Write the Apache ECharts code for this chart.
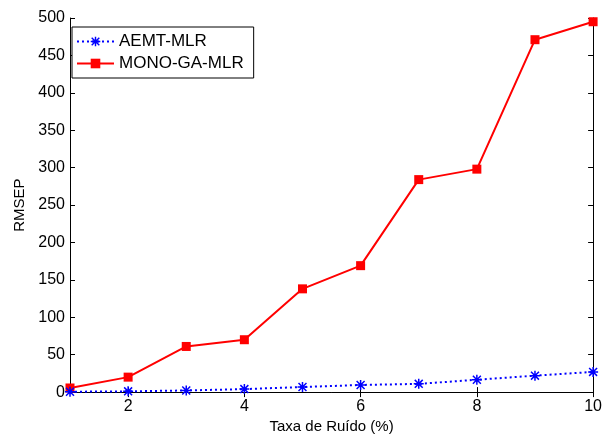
<!DOCTYPE html>
<html><head><meta charset="utf-8">
<script src="https://cdn.jsdelivr.net/npm/echarts@6/dist/echarts.min.js"></script>
<style>html,body{margin:0;padding:0;background:#fff}#c{width:605px;height:439px}</style>
</head><body><div id="c"></div>
<script>
var xValues = [1, 2, 3, 4, 5, 6, 7, 8, 9, 10];
var aemtMlr = [0.5, 1, 2.2, 4, 6.8, 9.5, 11, 16.5, 22, 27];
var monoGaMlr = [5.5, 20, 61, 70, 138, 169, 284, 298, 471, 495];
var xTicks = [2, 4, 6, 8, 10];
var seriesNames = ['AEMT-MLR', 'MONO-GA-MLR'];

var star = 'path://M8.5,0L11.5,0L11.5,20L8.5,20Z M0,8.5L20,8.5L20,11.5L0,11.5Z M1,3.1L3.1,1L19,16.9L16.9,19Z M16.9,1L19,3.1L3.1,19L1,16.9Z';
var font = 'Arial, Liberation Sans, Helvetica, sans-serif';
function pairs(v){ return xValues.map(function(x,i){ return [x, v[i]]; }); }

var chart = echarts.init(document.getElementById('c'), null, {renderer:'canvas'});
var axisCommon = {
  axisLine:{show:true, lineStyle:{color:'#000', width:1}},
  splitLine:{show:false}
};
chart.setOption({
  animation:false,
  backgroundColor:'#fff',
  grid:{left:70, right:9, top:18, bottom:43},
  legend:{
    orient:'vertical', left:72, top:27, data:seriesNames,
    backgroundColor:'#fff', borderColor:'#000', borderWidth:1,
    padding:[6,10,6,4], itemGap:5, itemWidth:37, itemHeight:12,
    textStyle:{fontFamily:font, fontSize:17, color:'#000'}
  },
  xAxis:[
    Object.assign({type:'value', min:1, max:10, position:'bottom',
      name:'Taxa de Ruído (%)', nameLocation:'middle', nameGap:24,
      nameTextStyle:{fontFamily:font, fontSize:15, color:'#000'},
      axisTick:{show:true, inside:true, length:5, customValues:xTicks, lineStyle:{color:'#000'}},
      axisLabel:{customValues:xTicks, fontFamily:font, fontSize:16, color:'#000', margin:6}
    }, axisCommon),
    Object.assign({type:'value', min:1, max:10, position:'top',
      axisTick:{show:true, inside:true, length:5, customValues:xTicks, lineStyle:{color:'#000'}},
      axisLabel:{show:false}
    }, axisCommon)
  ],
  yAxis:[
    Object.assign({type:'value', min:0, max:500, interval:50, position:'left',
      name:'RMSEP', nameLocation:'middle', nameGap:41, nameRotate:90,
      nameTextStyle:{fontFamily:font, fontSize:15, color:'#000'},
      axisTick:{show:true, inside:true, length:5, lineStyle:{color:'#000'}},
      axisLabel:{fontFamily:font, fontSize:16, color:'#000', margin:5}
    }, axisCommon),
    Object.assign({type:'value', min:0, max:500, interval:50, position:'right',
      axisTick:{show:true, inside:true, length:5, lineStyle:{color:'#000'}},
      axisLabel:{show:false}
    }, axisCommon)
  ],
  series:[
    {name:seriesNames[0], type:'line', data:pairs(aemtMlr), xAxisIndex:0, yAxisIndex:0,
      symbol:star, symbolSize:10, showAllSymbol:true,
      lineStyle:{color:'#0000ff', width:2, type:[2,3]},
      itemStyle:{color:'#0000ff'}, z:3},
    {name:seriesNames[1], type:'line', data:pairs(monoGaMlr), xAxisIndex:0, yAxisIndex:0,
      symbol:'rect', symbolSize:9, showAllSymbol:true,
      lineStyle:{color:'#ff0000', width:2},
      itemStyle:{color:'#ff0000'}, z:2}
  ]
});
</script></body></html>
